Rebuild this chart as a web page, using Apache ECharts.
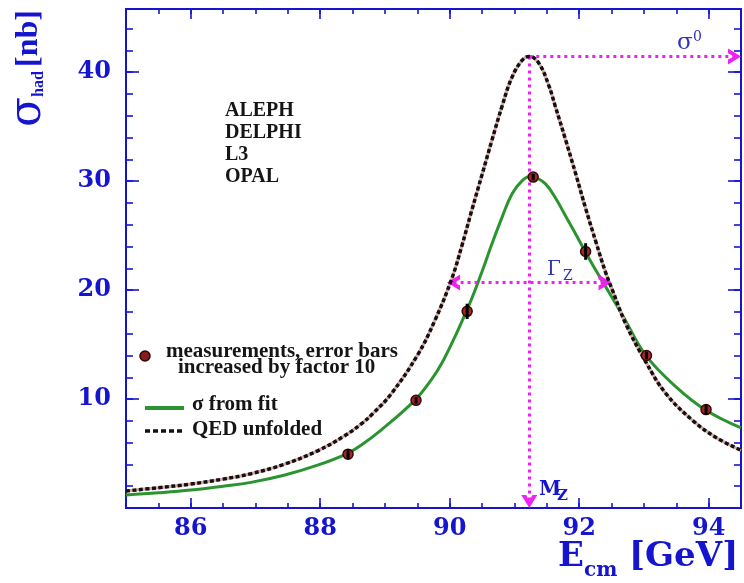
<!DOCTYPE html>
<html><head><meta charset="utf-8">
<script src="https://cdn.jsdelivr.net/npm/echarts@6/dist/echarts.min.js"></script>
<style>html,body{margin:0;padding:0;background:#fff}#c{width:744px;height:583px}</style>
</head><body><div id="c"></div>
<script>
// ---- data ----
const fitE = [85.0, 85.5, 86.0, 86.5, 86.93, 87.44, 87.96, 88.4, 88.63, 88.94, 89.46, 89.72, 89.88, 90.08, 90.26, 90.34, 90.5, 90.65, 90.81, 90.96, 91.12, 91.25, 91.33, 91.48, 91.63, 91.79, 91.95, 92.1, 92.26, 92.36, 92.67, 93.03, 93.5, 93.96, 94.5];
const fitSigma = [1.2, 1.4, 1.65, 2.0, 2.35, 3.0, 3.93, 4.95, 5.76, 7.15, 9.88, 11.8, 13.3, 15.7, 18.1, 19.2, 21.7, 24.2, 26.7, 28.8, 30.05, 30.45, 30.35, 29.75, 28.5, 26.8, 25.1, 23.45, 21.8, 20.8, 17.7, 14.0, 11.1, 8.97, 7.35];

const qedE = [85.0, 85.5, 86.0, 86.5, 86.93, 87.44, 87.96, 88.37, 88.63, 88.82, 89.1, 89.51, 89.77, 90.03, 90.19, 90.34, 90.5, 90.65, 90.81, 90.96, 91.12, 91.23, 91.38, 91.53, 91.63, 91.79, 91.95, 92.1, 92.26, 92.41, 92.52, 92.72, 93.03, 93.34, 93.76, 94.12, 94.5];
const qedSigma = [1.56, 1.86, 2.2, 2.65, 3.15, 4.0, 5.25, 6.6, 7.7, 8.7, 10.5, 14.1, 17.2, 21.0, 24.1, 27.3, 30.6, 33.7, 36.9, 39.5, 41.1, 41.45, 40.8, 38.8, 36.9, 33.8, 30.6, 27.5, 24.4, 21.6, 19.9, 16.9, 13.4, 10.5, 8.0, 6.45, 5.3];

const measE = [88.43, 89.48, 90.27, 91.29, 92.10, 93.04, 93.96];
const measSigma = [4.94, 9.88, 18.05, 30.37, 23.54, 14.0, 9.03];
const measErr = [0.45, 0.3, 0.7, 0.3, 0.76, 0.35, 0.45];

const xMajorTicks = [86, 88, 90, 92, 94];
const xMinorTicks = [85.5, 86, 86.5, 87, 87.5, 88, 88.5, 89, 89.5, 90, 90.5, 91, 91.5, 92, 92.5, 93, 93.5, 94];
const yMajorTicks = [10, 20, 30, 40];
const yMinorTicks = [2, 4, 6, 8, 10, 12, 14, 16, 18, 20, 22, 24, 26, 28, 30, 32, 34, 36, 38, 40, 42, 44];

const MZ = 91.23, SIGMA0 = 41.45, HALF_MAX = 20.7, GAMMA_LO = 89.96, GAMMA_HI = 92.5;
const X_MIN = 85, X_MAX = 94.5, Y_MIN = 0, Y_MAX = 45.8;

// ---- styling ----
const BLUE = '#1515d0';
const LABEL_BLUE = '#3434b8';
const MAGENTA = '#f020f0';
const GREEN = '#2b9430';
const CHEV = 'path://M0,10 L5,0 L10,10 L6.9,10 L5,5.2 L3.1,10 Z';
const CHEV_SIZE = [16, 13];

const zip = (a, b) => a.map((v, i) => [v, b[i]]);

function xAx(pos, ticks, len, labels) {
  return {
    type: 'value', position: pos, min: X_MIN, max: X_MAX,
    axisLine: { show: true, onZero: false, lineStyle: { color: BLUE, width: 2 } },
    axisTick: { show: true, inside: true, length: len, customValues: ticks, lineStyle: { color: BLUE, width: 1.6 } },
    axisLabel: labels ? { show: true, customValues: ticks, color: BLUE, fontFamily: 'DejaVu Serif', fontWeight: 'bold', fontSize: 24, margin: 9 } : { show: false },
    splitLine: { show: false }
  };
}
function yAx(pos, ticks, len, labels) {
  return {
    type: 'value', position: pos, min: Y_MIN, max: Y_MAX,
    axisLine: { show: true, onZero: false, lineStyle: { color: BLUE, width: 2 } },
    axisTick: { show: true, inside: true, length: len, customValues: ticks, lineStyle: { color: BLUE, width: 1.6 } },
    axisLabel: labels ? { show: true, customValues: ticks, color: BLUE, fontFamily: 'DejaVu Serif', fontWeight: 'bold', fontSize: 24, margin: 15 } : { show: false },
    splitLine: { show: false }
  };
}

const chart = echarts.init(document.getElementById('c'), null, { renderer: 'canvas' });

const serifB = (size) => ({ fontFamily: 'Liberation Serif', fontWeight: 'bold', fontSize: size });

chart.setOption({
  animation: false,
  backgroundColor: '#fff',
  grid: { left: 126, right: 3, top: 9, bottom: 75, containLabel: false },
  xAxis: [
    xAx('bottom', xMinorTicks, 5, false),
    xAx('bottom', xMajorTicks, 10, true),
    xAx('top', xMinorTicks, 5, false),
    xAx('top', xMajorTicks, 10, false)
  ],
  yAxis: [
    yAx('left', yMinorTicks, 7, false),
    yAx('left', yMajorTicks, 13, true),
    yAx('right', yMinorTicks, 7, false),
    yAx('right', yMajorTicks, 13, false)
  ],
  series: [
    {
      name: 'σ from fit', type: 'line', data: zip(fitE, fitSigma), smooth: 0.4,
      showSymbol: false, symbol: 'none', lineStyle: { color: GREEN, width: 3 }, z: 3,
      markLine: {
        silent: true, animation: false, label: { show: false },
        lineStyle: { color: MAGENTA, width: 3, type: [3, 4] },
        emphasis: { disabled: true },
        data: [
          [{ coord: [MZ, SIGMA0], symbol: 'none' }, { coord: [MZ, Y_MIN + 0.6], symbol: CHEV, symbolSize: CHEV_SIZE }],
          [{ coord: [MZ, SIGMA0], symbol: 'none' }, { coord: [X_MAX - 0.1, SIGMA0], symbol: CHEV, symbolSize: CHEV_SIZE }],
          [{ coord: [GAMMA_LO + 0.1, HALF_MAX], symbol: CHEV, symbolSize: CHEV_SIZE }, { coord: [GAMMA_HI - 0.1, HALF_MAX], symbol: CHEV, symbolSize: CHEV_SIZE }]
        ]
      }
    },
    {
      name: 'QED base', type: 'line', data: zip(qedE, qedSigma), smooth: 0.4,
      showSymbol: false, symbol: 'none', lineStyle: { color: '#d8a4a4', width: 3 }, z: 4
    },
    {
      name: 'QED unfolded', type: 'line', data: zip(qedE, qedSigma), smooth: 0.4,
      showSymbol: false, symbol: 'none', lineStyle: { color: '#111', width: 3.5, type: [4, 2.5] }, z: 5
    },
    {
      name: 'measurements', type: 'scatter', data: zip(measE, measSigma),
      symbol: 'circle', symbolSize: 10,
      itemStyle: { color: '#a02828', borderColor: '#3a0808', borderWidth: 1.5, opacity: 1 }, z: 6
    },
    {
      name: 'errors', type: 'custom', z: 7,
      data: measE.map((e, i) => [e, measSigma[i] - measErr[i], measSigma[i] + measErr[i]]),
      renderItem: function (params, api) {
        const p1 = api.coord([api.value(0), api.value(1)]);
        const p2 = api.coord([api.value(0), api.value(2)]);
        return { type: 'line', shape: { x1: p1[0], y1: p1[1], x2: p2[0], y2: p2[1] }, style: { stroke: '#000', lineWidth: 3 } };
      }
    }
  ],
  graphic: [
    // y-axis title
    {
      type: 'group', x: 45, y: 127, rotation: Math.PI / 2, silent: true,
      children: [
        { type: 'text', x: 0, y: -16, style: { text: 'σ', fontFamily: 'DejaVu Serif', fontSize: 44, fill: BLUE, textAlign: 'left', textVerticalAlign: 'middle' } },
        { type: 'text', x: 30, y: -6, style: Object.assign({ text: 'had', fill: BLUE, textAlign: 'left', textVerticalAlign: 'middle' }, serifB(16)) },
        { type: 'text', x: 60, y: -16, style: Object.assign({ text: '[nb]', fill: BLUE, textAlign: 'left', textVerticalAlign: 'middle' }, serifB(32)) }
      ]
    },
    // x-axis title
    { type: 'text', left: 558, top: 540, silent: true, style: { text: 'E', fontFamily: 'DejaVu Serif', fontWeight: 'bold', fontSize: 34, fill: BLUE } },
    { type: 'text', left: 584, top: 561, silent: true, style: { text: 'cm', fontFamily: 'DejaVu Serif', fontWeight: 'bold', fontSize: 20, fill: BLUE } },
    { type: 'text', left: 629, top: 540, silent: true, style: { text: '[GeV]', fontFamily: 'DejaVu Serif', fontWeight: 'bold', fontSize: 34, fill: BLUE } },
    // experiments
    { type: 'text', x: 225, y: 111, silent: true, style: Object.assign({ text: 'ALEPH', fill: '#151515', textVerticalAlign: 'middle' }, serifB(20)) },
    { type: 'text', x: 225, y: 133, silent: true, style: Object.assign({ text: 'DELPHI', fill: '#151515', textVerticalAlign: 'middle' }, serifB(20)) },
    { type: 'text', x: 225, y: 155, silent: true, style: Object.assign({ text: 'L3', fill: '#151515', textVerticalAlign: 'middle' }, serifB(20)) },
    { type: 'text', x: 225, y: 177, silent: true, style: Object.assign({ text: 'OPAL', fill: '#151515', textVerticalAlign: 'middle' }, serifB(20)) },
    // legend
    { type: 'circle', shape: { cx: 145, cy: 356, r: 5 }, silent: true, style: { fill: '#8a1c1c', stroke: '#2a0505', lineWidth: 1.5 } },
    { type: 'text', x: 166, y: 352, silent: true, style: Object.assign({ text: 'measurements, error bars', fill: '#151515', textVerticalAlign: 'middle' }, serifB(21)) },
    { type: 'text', x: 178, y: 368, silent: true, style: Object.assign({ text: 'increased by factor 10', fill: '#151515', textVerticalAlign: 'middle' }, serifB(21)) },
    { type: 'line', shape: { x1: 145, y1: 408, x2: 184, y2: 408 }, silent: true, style: { stroke: GREEN, lineWidth: 4 } },
    { type: 'text', x: 192, y: 405, silent: true, style: Object.assign({ text: 'σ from fit', fill: '#151515', textVerticalAlign: 'middle' }, serifB(21)) },
    { type: 'line', shape: { x1: 145, y1: 431, x2: 184, y2: 431 }, silent: true, style: { stroke: '#111', lineWidth: 3.5, lineDash: [5, 3] } },
    { type: 'text', x: 192, y: 430, silent: true, style: Object.assign({ text: 'QED unfolded', fill: '#151515', textVerticalAlign: 'middle' }, serifB(21)) },
    // annotations
    { type: 'text', x: 677, y: 43, silent: true, style: { text: 'σ', fontFamily: 'DejaVu Serif', fontSize: 23, fill: LABEL_BLUE, textVerticalAlign: 'middle' } },
    { type: 'text', x: 693, y: 37, silent: true, style: { text: '0', fontFamily: 'DejaVu Serif', fontSize: 14, fill: LABEL_BLUE, textVerticalAlign: 'middle' } },
    { type: 'text', x: 547, y: 270, silent: true, style: { text: 'Γ', fontFamily: 'DejaVu Serif', fontSize: 20, fill: LABEL_BLUE, textVerticalAlign: 'middle' } },
    { type: 'text', x: 563, y: 276, silent: true, style: { text: 'Z', fontFamily: 'DejaVu Serif', fontSize: 14, fill: LABEL_BLUE, textVerticalAlign: 'middle' } },
    { type: 'text', x: 539, y: 490, silent: true, style: { text: 'M', fontFamily: 'DejaVu Serif', fontWeight: 'bold', fontSize: 20, fill: BLUE, textVerticalAlign: 'middle' } },
    { type: 'text', x: 557, y: 496, silent: true, style: { text: 'Z', fontFamily: 'DejaVu Serif', fontWeight: 'bold', fontSize: 15, fill: BLUE, textVerticalAlign: 'middle' } }
  ]
});
</script>
</body></html>
